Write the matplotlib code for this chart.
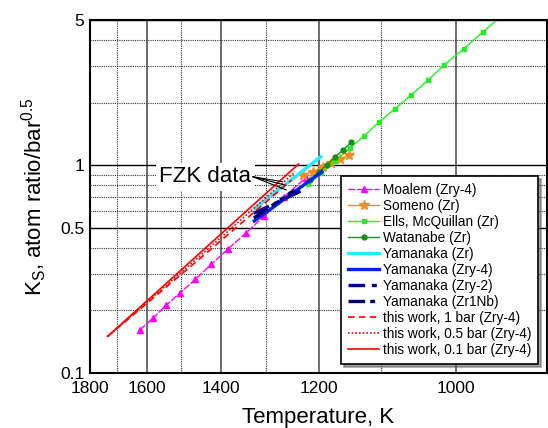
import numpy as np
import matplotlib
matplotlib.use('Agg')
import matplotlib.pyplot as plt
from matplotlib.ticker import FixedLocator, NullFormatter

plt.rcParams['font.family'] = 'Liberation Sans'
plt.rcParams['mathtext.default'] = 'regular'

# Sieverts constant vs temperature, literature + this work
moalem_T = [1623, 1583, 1543, 1503, 1463, 1423, 1383, 1343, 1303, 1263, 1223]
moalem_K = [0.161, 0.183, 0.212, 0.243, 0.282, 0.333, 0.394, 0.470, 0.570, 0.705, 0.87]

someno_T = [1228, 1210, 1192, 1178, 1164, 1149]
someno_K = [0.897, 0.930, 0.984, 1.028, 1.068, 1.120]

ells_T = [1218, 1195, 1171, 1148, 1125, 1103, 1080, 1057, 1035, 1014, 990, 968, 945]
ells_K = [0.808, 0.916, 1.050, 1.204, 1.387, 1.608, 1.864, 2.176, 2.562, 3.036, 3.636, 4.375, 5.34]

watanabe_T = [1215, 1200, 1186, 1172, 1158, 1145]
watanabe_K = [0.850, 0.925, 1.004, 1.091, 1.189, 1.289]

yam_zr_T = [1323, 1196]
yam_zr_K = [0.620, 1.099]
yam_zry4_T = [1324, 1194]
yam_zry4_K = [0.539, 0.930]
yam_zry2_T = [1325, 1221]
yam_zry2_K = [0.587, 0.774]
yam_zr1nb_T = [1325, 1243]
yam_zr1nb_K = [0.557, 0.760]

tw_1bar_T = [1733, 1433, 1249]
tw_1bar_K = [0.150, 0.380, 0.849]
tw_05bar_T = [1733, 1433, 1242]
tw_05bar_K = [0.150, 0.392, 0.930]
tw_01bar_T = [1733, 1433, 1236]
tw_01bar_K = [0.150, 0.406, 1.013]

# where the "FZK data" leader lines point
fzk_T = [1266, 1262, 1259]
fzk_K = [0.833, 0.803, 0.760]


def inv(t):
    t = np.asarray(t, dtype=float)
    with np.errstate(divide='ignore'):
        return 1.0 / t


fig = plt.figure(figsize=(5.48, 4.28), dpi=100)
ax = fig.add_axes([90/548, 55/428, 457/548, 353/428])
ax.set_xscale('function', functions=(inv, inv))
ax.set_yscale('log')

ax.plot(moalem_T, moalem_K, color='#ff00ff', ls='--', dashes=(5, 1.2), lw=1,
        marker='^', ms=5, label='Moalem (Zry-4)')
ax.plot(someno_T, someno_K, color='#ff8c1a', lw=1, marker='*', ms=7,
        label='Someno (Zr)')
ax.plot(ells_T, ells_K, color='#22f022', lw=1, marker='s', ms=3.5,
        label='Ells, McQuillan (Zr)')
ax.plot(watanabe_T, watanabe_K, color='#1a8c1a', lw=1, marker='o', ms=3.5,
        label='Watanabe (Zr)')
ax.plot(yam_zr_T, yam_zr_K, color='#22eeff', lw=2.4, label='Yamanaka (Zr)')
ax.plot(yam_zry4_T, yam_zry4_K, color='#0022ee', lw=2.4, label='Yamanaka (Zry-4)')
ax.plot(yam_zry2_T, yam_zry2_K, color='#000099', lw=2.4, ls=(0, (5, 2, 1.5, 2)),
        label='Yamanaka (Zry-2)')
ax.plot(yam_zr1nb_T, yam_zr1nb_K, color='#000066', lw=2.4,
        ls=(0, (5, 1.5, 1.5, 1.5, 1.5, 1.5)), label='Yamanaka (Zr1Nb)')
ax.plot(tw_1bar_T, tw_1bar_K, color='red', lw=1.2, ls=(0, (4, 2.5)),
        label='this work, 1 bar (Zry-4)')
ax.plot(tw_05bar_T, tw_05bar_K, color='red', lw=1.2, ls=(0, (1, 1.2)),
        label='this work, 0.5 bar (Zry-4)')
ax.plot(tw_01bar_T, tw_01bar_K, color='red', lw=1.2,
        label='this work, 0.1 bar (Zry-4)')

# 1/T scale: 1800 K on the left
ax.set_xlim(900, 1800)
ax.set_ylim(0.1, 5)

ax.xaxis.set_major_locator(FixedLocator([1800, 1600, 1400, 1200, 1000]))
ax.xaxis.set_minor_locator(FixedLocator([1700, 1500, 1300, 1100, 900]))
ax.xaxis.set_major_formatter(plt.FuncFormatter(lambda v, p: '%d' % v))
ax.xaxis.set_minor_formatter(NullFormatter())
ax.yaxis.set_major_locator(FixedLocator([0.1, 0.5, 1, 5]))
ax.yaxis.set_minor_locator(FixedLocator([0.2, 0.3, 0.4, 0.6, 0.7, 0.8, 0.9, 2, 3, 4]))
ax.yaxis.set_major_formatter(plt.FuncFormatter(lambda v, p: '%g' % v))
ax.yaxis.set_minor_formatter(NullFormatter())

ax.set_axisbelow(True)
ax.grid(which='major', axis='x', color='#555555', lw=1.2, ls='-')
ax.grid(which='minor', axis='x', color='#333333', lw=0.8, ls=(0, (1, 1)))
ax.grid(which='major', axis='y', color='black', lw=1.0, ls='-')
ax.grid(which='minor', axis='y', color='#333333', lw=0.8, ls=(0, (1, 1)))

ax.tick_params(which='both', length=0, labelsize=12.5)
ax.tick_params(axis='x', pad=6)
ax.tick_params(axis='y', pad=4)
for s in ax.spines.values():
    s.set_linewidth(1.5)

ax.set_xlabel('Temperature, K', fontsize=16, labelpad=8)
ax.set_ylabel('K$_{S}$, atom ratio/bar$^{0.5}$', fontsize=16, labelpad=8)

# label with leader lines to the FZK curves
ax.text(1330, 0.88, 'FZK data', fontsize=16, ha='right', va='center', zorder=4,
        bbox=dict(fc='white', ec='none', pad=2.5))
for t, k in zip(fzk_T, fzk_K):
    ax.annotate('', xy=(t, k), xytext=(1327, 0.88), zorder=4,
                arrowprops=dict(arrowstyle='-', color='black', lw=0.8,
                                shrinkA=0, shrinkB=0))

leg = ax.legend(loc='lower right', bbox_to_anchor=(0.9803, 0.0255), borderaxespad=0,
                fontsize=9.8, handlelength=2.28, handletextpad=0.25,
                labelspacing=0.15, borderpad=0.5, numpoints=1,
                fancybox=False, framealpha=1, edgecolor='black', shadow=True)
leg.get_frame().set_linewidth(1.2)

plt.savefig('out.png', dpi=100)
